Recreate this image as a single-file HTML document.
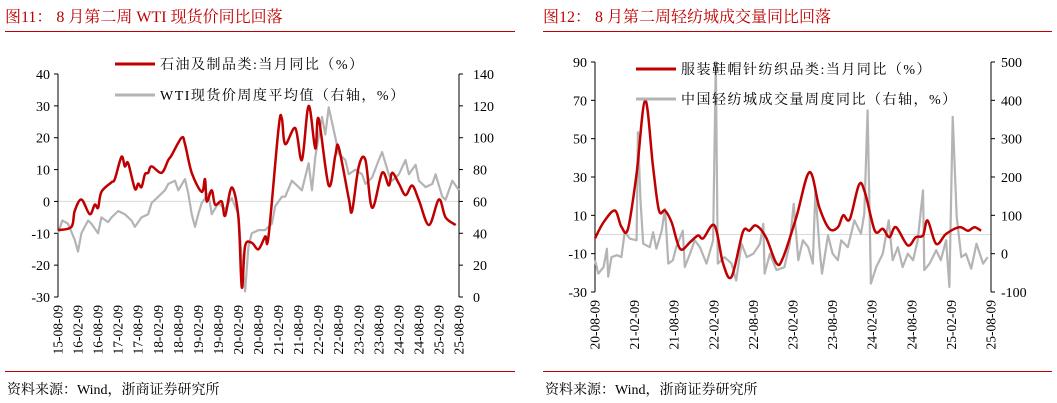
<!DOCTYPE html>
<html><head><meta charset="utf-8">
<style>
body{margin:0;background:#fff;}
svg{display:block;font-family:"Liberation Serif","Noto Serif CJK SC",serif;}
</style></head>
<body>
<svg id="s" width="1057" height="403" viewBox="0 0 1057 403">
<text x="5" y="22" font-size="16" fill="#c00000">图11：  8 月第二周 WTI 现货价同比回落</text>
<line x1="5" y1="31.5" x2="515" y2="31.5" stroke="#c00000" stroke-width="1"/>
<text x="543" y="22" font-size="16" fill="#c00000">图12：  8 月第二周轻纺城成交量同比回落</text>
<line x1="543" y1="31.5" x2="1052" y2="31.5" stroke="#c00000" stroke-width="1"/>
<line x1="5" y1="371.5" x2="515" y2="371.5" stroke="#c00000" stroke-width="1"/>
<line x1="543" y1="371.5" x2="1052" y2="371.5" stroke="#c00000" stroke-width="1"/>
<text x="7" y="394" font-size="14" fill="#000">资料来源：Wind，浙商证券研究所</text>
<text x="545" y="394" font-size="14" fill="#000">资料来源：Wind，浙商证券研究所</text>
<g id="g1"></g><g id="g2"></g>
</svg>
<script>
// ---- Chart 1 data (x = months since 2015-08) ----
const c1XLabels=["15-08-09","16-02-09","16-08-09","17-02-09","17-08-09","18-02-09","18-08-09","19-02-09","19-08-09","20-02-09","20-08-09","21-02-09","21-08-09","22-02-09","22-08-09","23-02-09","23-08-09","24-02-09","24-08-09","25-02-09","25-08-09"];
const c1LeftTicks=[40,30,20,10,0,-10,-20,-30];
const c1RightTicks=[140,120,100,80,60,40,20,0];
const oilX=[0,4,5,7,9.5,11,12,13,16,17,19,20,21,23,24,25,26,27,28,31,33,34,37,38,40,43,44,44.5,46,47,49,50,52,54,55,56,58,60,62,63,66,67,68,71,73,75,77,78,81,83,84,87,88,90,92,94,97,99,100,102,104,106,108,111,114,116,119];
const oilY=[-9,-8,-3,0.6,-4,-1,-2,3,6,7,14,11,12,4,5.6,4.5,8.5,9,11,9,13,14.5,20,18,9,3,7,0,3.5,-1,0,-4.5,4.4,-5,-27,-14,-13,-15,-11,-11,23,26,18,23,13,30,16.6,26,5,14.5,17,1,-3,11,13,-2,9,5,9,5.6,2,5,0.4,-7.4,0.6,-5,-7.4];
const wtiX=[0,1.3,3,5,6,7,9,10,12,13,15,16,18,20,22,23,25,27,28,30,32,33,35,36,38,39,40,41,42,43,45,46,48,50,51,52,54,55,56,57,58,60,62,64,65,67,68,70,72,73,75,76,77,79,80,81,83,84,86,87,89,91,92,94,96,97,99,100,102,104,105,107,108,110,112,113,115,116,118,120];
const wtiY=[40,48,46,36,28.5,40,48,46,40,50,47,50,54,52,48,44,50,52,59,63,67,71,73,67,74,65,52,44,52,59,65,52,59,55,59,62,52,23,3.5,32,40,42,42,46,57,63,63,73,69,67,84,67,88,113,102,119,100,90,86,77,80,77,71,75,86,91,77,73,77,86,77,83,73,69,71,77,63,61,73,67];
// ---- Chart 2 data (x = months since 2020-08) ----
const c2XLabels=["20-08-09","21-02-09","21-08-09","22-02-09","22-08-09","23-02-09","23-08-09","24-02-09","24-08-09","25-02-09","25-08-09"];
const c2LeftTicks=[90,70,50,30,10,-10,-30];
const c2RightTicks=[500,400,300,200,100,0,-100];
const apparelX=[0,1.3,3,4,5,6.3,7.6,8.8,9.7,10.6,11.6,12.9,14.4,15.6,16.4,18.1,19.4,20.7,22.4,23.4,24.4,25.9,27.5,28.5,30.5,32.5,34,35.5,36.8,37.6,38.6,40,40.9,42.4,43.6,44.6,45.6,47.4,48.6,49.7,50.4,51.7,53.2,55.2,56.5,57.5,58.5];
const apparelY=[-2,6.4,12.5,4,3,31.7,70,35,12.5,12.5,6.4,-7.5,-4,-0.5,-2,4.7,-15,-22,1.2,2,4.7,-1.4,-15,-12,9,32.5,14,3,3.8,10,8,26,22,2,3,-1.4,3.8,-5.7,-1.4,-0.5,7.3,-4.9,0.3,3.8,2,3.8,2];
const volX=[0,0.5,1.3,1.8,2,2.5,3.3,4,4.5,5.3,6.3,6.5,6.9,7.3,8.3,8.8,9.3,10.1,10.6,11.1,11.8,12.3,13.3,13.6,14.4,15.1,15.9,16.9,17.9,18.3,18.6,19.6,20.7,21.4,22.2,23,24,25,25.5,25.7,26.5,27.5,28.7,29.5,30.1,30.8,31.5,32.3,33,33.4,34,34.4,35.3,36,36.8,37.3,38.3,39.3,40.3,40.8,41.3,41.8,42.6,43.6,44.5,45.1,45.9,46.6,47.4,48.2,48.9,49.7,49.9,50.7,51.7,52.4,53.2,53.7,54.2,54.8,55.5,56.2,57,57.8,58.3,58.8,59.5];
const volY=[-17,-52,-35,13,-60,-9,-4,-9,56,39,35,317,139,26,17,56,13,60,117,-26,-17,17,60,-35,0,35,17,-26,35,500,-26,-9,-26,-70,26,-9,0,26,78,-52,0,-43,-35,26,130,-17,35,17,-26,165,17,-52,48,0,-17,35,17,87,52,104,374,-78,-35,0,87,-17,17,-35,0,-17,35,165,-43,-26,9,-17,35,-87,357,96,-9,0,-39,26,0,-26,-9];

const NS="http://www.w3.org/2000/svg";
function mk(parent,tag,attrs){const e=document.createElementNS(NS,tag);for(const k in attrs)e.setAttribute(k,attrs[k]);parent.appendChild(e);return e;}
function lin(d0,d1,r0,r1){return v=>r0+(v-d0)*(r1-r0)/(d1-d0);}
function smooth(pts){
  let d='M'+pts[0][0].toFixed(1)+' '+pts[0][1].toFixed(1);
  for(let i=0;i<pts.length-1;i++){
    const p0=pts[Math.max(0,i-1)],p1=pts[i],p2=pts[i+1],p3=pts[Math.min(pts.length-1,i+2)];
    const c1x=p1[0]+(p2[0]-p0[0])/6,c1y=p1[1]+(p2[1]-p0[1])/6,c2x=p2[0]-(p3[0]-p1[0])/6,c2y=p2[1]-(p3[1]-p1[1])/6;
    d+=` C${c1x.toFixed(1)} ${c1y.toFixed(1)} ${c2x.toFixed(1)} ${c2y.toFixed(1)} ${p2[0].toFixed(1)} ${p2[1].toFixed(1)}`;
  }
  return d;
}

function drawChart(g,o){
  const x=lin(0,o.xMax,o.x0,o.x1), yl=lin(o.lMin,o.lMax,o.yB,o.yT), yr=lin(o.rMin,o.rMax,o.yB,o.yT);
  const z=mk(g,'line',{x1:o.x0,x2:o.x1,y1:yl(0),y2:yl(0),stroke:'#d9d9d9','stroke-width':1});
  
  
  const la=mk(g,'line',{x1:o.x0,x2:o.x0,y1:o.yT,y2:o.yB,stroke:'#000','stroke-width':1});
  
  
  const ra=mk(g,'line',{x1:o.x1,x2:o.x1,y1:o.yT,y2:o.yB,stroke:'#000','stroke-width':1});
  
  
  o.lTicks.forEach(v=>{
    mk(g,'line',{x1:o.x0-4,x2:o.x0,y1:yl(v),y2:yl(v),stroke:'#000'});
    const t=mk(g,'text',{x:o.x0-8,y:yl(v)+5,'text-anchor':'end','font-size':14});
    t.textContent=v;
    
    
  });
  o.rTicks.forEach(v=>{
    mk(g,'line',{x1:o.x1,x2:o.x1+4,y1:yr(v),y2:yr(v),stroke:'#000'});
    const t=mk(g,'text',{x:o.x1+(o.rOff||8),y:yr(v)+5,'font-size':14});
    t.textContent=v;
    
    
  });
  o.xLabels.forEach((s,i)=>{
    const xx=x(i*o.xStep)+4.5, yy=o.yB+8;
    const t=mk(g,'text',{x:xx,y:yy,'text-anchor':'end','font-size':13.5,transform:`rotate(-90 ${xx} ${yy})`});
    t.textContent=s;
    
    
  });
  const path=(xs,ys,sc)=>xs.map((v,i)=>(i?'L':'M')+x(v).toFixed(1)+' '+sc(ys[i]).toFixed(1)).join(' ');
  const gp=mk(g,'path',{d:path(o.gX,o.gY,yr),fill:'none',stroke:'#b4b4b4','stroke-width':2.2,'stroke-linejoin':'round'});
  
  
  const rp=mk(g,'path',{d:smooth(o.rX.map((v,i)=>[x(v),yl(o.rY[i])])),fill:'none',stroke:'#c00000','stroke-width':2.5,'stroke-linejoin':'round'});
  
  
  const lg=mk(g,'g',{});
  
  
  mk(lg,'line',{x1:o.legX,x2:o.legX+40,y1:o.legY1,y2:o.legY1,stroke:'#c00000','stroke-width':3});
  const t1=mk(lg,'text',{x:o.legX+45,y:o.legY1+5,'font-size':14,'letter-spacing':o.ls});t1.textContent=o.leg1;
  
  
  mk(lg,'line',{x1:o.legX,x2:o.legX+40,y1:o.legY2,y2:o.legY2,stroke:'#b4b4b4','stroke-width':3});
  const t2=mk(lg,'text',{x:o.legX+45,y:o.legY2+5,'font-size':14,'letter-spacing':o.ls});t2.textContent=o.leg2;
  
  
}
drawChart(document.getElementById('g1'),{x0:58,x1:459,yT:74,yB:297,xMax:120,xStep:6,lMin:-30,lMax:40,rMin:0,rMax:140,
  lTicks:c1LeftTicks,rTicks:c1RightTicks,xLabels:c1XLabels,rX:oilX,rY:oilY,gX:wtiX,gY:wtiY,ls:1.5,
  legX:115,legY1:64,legY2:95,leg1:'石油及制品类:当月同比（%）',leg2:'WTI现货价周度平均值（右轴，%）',rOff:14});
drawChart(document.getElementById('g2'),{x0:595,x1:991,yT:62,yB:292,xMax:60,xStep:6,lMin:-30,lMax:90,rMin:-100,rMax:500,
  lTicks:c2LeftTicks,rTicks:c2RightTicks,xLabels:c2XLabels,rX:apparelX,rY:apparelY,gX:volX,gY:volY,ls:1.5,
  legX:636,legY1:69,legY2:99,leg1:'服装鞋帽针纺织品类:当月同比（%）',leg2:'中国轻纺城成交量周度同比（右轴，%）',rOff:10});
</script>
</body></html>
